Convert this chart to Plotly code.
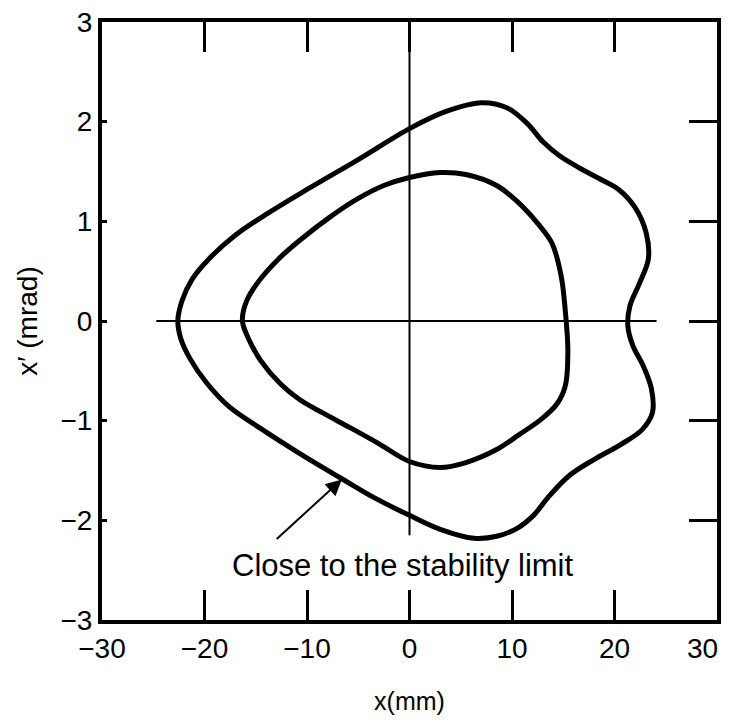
import plotly.graph_objects as go

# Outer phase-space contour (close to the stability limit): x [mm], x' [mrad]
outer_x = [-22.6, -22.2, -21.2, -19.5, -17.0, -14.0, -10.0, -5.0, 0.0, 3.5, 7.0, 9.5, 11.5,
           13.0, 14.6, 16.5, 18.5, 20.4, 22.0, 23.1, 23.3, 22.4, 21.5, 21.3, 21.8, 22.8, 23.6,
           23.7, 22.7, 20.6, 18.0, 15.6, 13.6, 12.1, 10.5, 8.5, 6.3, 3.0, 0.0, -3.5, -6.8, -10.7,
           -14.5, -17.6, -19.8, -21.4, -22.3, -22.6]
outer_y = [0.0, 0.20, 0.42, 0.63, 0.86, 1.07, 1.32, 1.62, 1.93, 2.10, 2.19, 2.14, 1.98,
           1.80, 1.66, 1.54, 1.43, 1.32, 1.14, 0.88, 0.62, 0.37, 0.15, -0.05, -0.25, -0.45, -0.68,
           -0.92, -1.09, -1.24, -1.39, -1.55, -1.76, -1.95, -2.08, -2.16, -2.18, -2.09, -1.95,
           -1.77, -1.57, -1.33, -1.08, -0.86, -0.62, -0.38, -0.18, 0.0]

# Inner phase-space contour
inner_x = [-16.3, -15.9, -14.7, -12.8, -10.7, -7.8, -5.0, -2.5, 0.0, 3.0, 5.5, 8.5, 10.5,
           12.5, 13.9, 14.8, 15.2, 15.45, 15.2, 14.4, 12.8, 10.7, 8.5, 5.5, 3.0, 0.0, -3.0,
           -5.8, -8.5, -10.7, -12.6, -14.5, -15.6, -16.3]
inner_y = [0.0, 0.20, 0.40, 0.62, 0.81, 1.04, 1.23, 1.36, 1.44, 1.49, 1.47, 1.36, 1.20,
           0.98, 0.78, 0.45, 0.10, -0.30, -0.65, -0.83, -0.99, -1.14, -1.29, -1.42, -1.47, -1.41,
           -1.23, -1.07, -0.92, -0.79, -0.63, -0.40, -0.20, 0.0]

# Reference axes drawn inside the frame
hline_x = [-24.7, 24.1]
hline_y = [0, 0]
vline_x = [0, 0]
vline_y = [3, -2.15]

x_ticks = [-30, -20, -10, 0, 10, 20, 30]
x_top_ticks = [-20, -10, 0, 10, 20]
y_ticks = [-3, -2, -1, 0, 1, 2, 3]
y_right_ticks = [-2, -1, 0, 1, 2]

label_text = "Close to the stability limit"
label_pos = (-0.6, -2.45)
arrow_tip = (-6.6, -1.59)
arrow_tail = (-13.1, -2.2)

FONT = "Liberation Sans, Arial, Helvetica, sans-serif"


def fmt(v):
    return f"\u2212{abs(v)}" if v < 0 else str(v)


x_ticktext = [fmt(v) for v in x_ticks]
last_x_label = x_ticktext[-1]
x_ticktext[-1] = ""  # drawn right-aligned below so it stays inside the page edge

fig = go.Figure()
fig.add_trace(go.Scatter(x=outer_x, y=outer_y, mode="lines",
                         line=dict(color="black", width=5, shape="spline", smoothing=1.0),
                         showlegend=False, hoverinfo="skip"))
fig.add_trace(go.Scatter(x=inner_x, y=inner_y, mode="lines",
                         line=dict(color="black", width=5, shape="spline", smoothing=1.0),
                         showlegend=False, hoverinfo="skip"))
fig.add_trace(go.Scatter(x=vline_x, y=vline_y, mode="lines", xaxis="x2",
                         line=dict(color="black", width=2),
                         showlegend=False, hoverinfo="skip"))
fig.add_trace(go.Scatter(x=hline_x, y=hline_y, mode="lines", yaxis="y2",
                         line=dict(color="black", width=2),
                         showlegend=False, hoverinfo="skip"))

fig.add_annotation(x=arrow_tip[0], y=arrow_tip[1], ax=arrow_tail[0], ay=arrow_tail[1],
                   xref="x", yref="y", axref="x", ayref="y", text="",
                   showarrow=True, arrowhead=2, arrowsize=1.6, arrowwidth=2, arrowcolor="black",
                   standoff=0)
fig.add_annotation(x=label_pos[0], y=label_pos[1], xref="x", yref="y", text=label_text,
                   showarrow=False, font=dict(family=FONT, size=31, color="black"))
fig.add_annotation(x=1, y=0, xref="paper", yref="paper", text=last_x_label,
                   xanchor="right", yanchor="middle", xshift=3, yshift=-28,
                   showarrow=False, font=dict(family=FONT, size=28, color="black"))

fig.update_layout(
    width=715, height=707,
    margin=dict(l=94, r=6, t=14, b=95),
    paper_bgcolor="white", plot_bgcolor="white",
    font=dict(family=FONT, color="black"),
    xaxis=dict(range=[-30, 30], tickvals=x_ticks, ticktext=x_ticktext,
               ticks="inside", ticklen=30, tickwidth=2.5, tickcolor="black",
               showline=True, linewidth=4, linecolor="black", mirror=True,
               showgrid=False, zeroline=False, tickfont=dict(size=28), automargin=False,
               ticklabeloverflow="allow",
               title=dict(text="x(mm)", font=dict(size=25), standoff=44)),
    xaxis2=dict(range=[-30, 30], overlaying="x", side="top", tickvals=x_top_ticks,
                ticks="inside", ticklen=30, tickwidth=2.5, tickcolor="black",
                showticklabels=False, showline=False, showgrid=False, zeroline=False,
                automargin=False),
    yaxis=dict(range=[-3, 3], tickvals=y_ticks, ticktext=[fmt(v) for v in y_ticks],
               ticks="inside", ticklen=5, tickwidth=2.5, tickcolor="black",
               showline=True, linewidth=4, linecolor="black", mirror=True,
               showgrid=False, zeroline=False, tickfont=dict(size=28), automargin=False,
               ticklabeloverflow="allow",
               title=dict(text="x\u2032 (mrad)", font=dict(size=28), standoff=16)),
    yaxis2=dict(range=[-3, 3], overlaying="y", side="right", tickvals=y_right_ticks,
                ticks="inside", ticklen=28, tickwidth=2.5, tickcolor="black",
                showticklabels=False, showline=False, showgrid=False, zeroline=False,
                automargin=False),
)

fig.write_html("out.html")
